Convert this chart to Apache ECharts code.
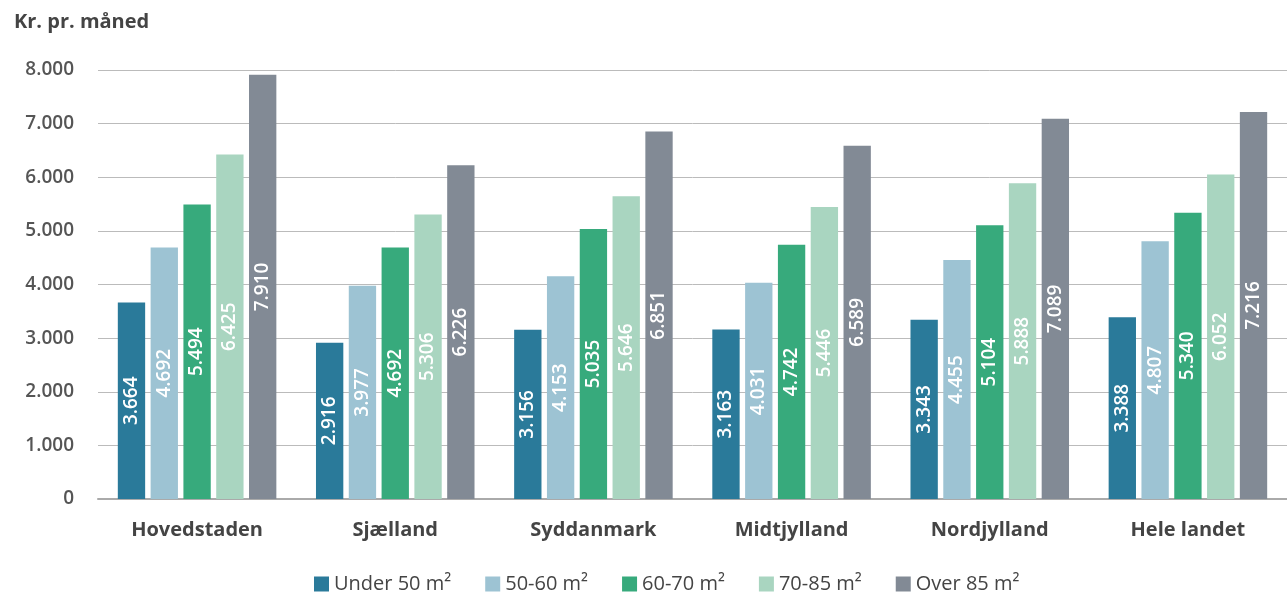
<!DOCTYPE html>
<html>
<head>
<meta charset="utf-8">
<script src="https://cdn.jsdelivr.net/npm/echarts@6/dist/echarts.min.js"></script>
<style>
  html, body { margin: 0; padding: 0; background: #fff; }
  #chart { width: 1287px; height: 593px; }
</style>
</head>
<body>
<div id="chart"></div>
<script>
const categories = ['Hovedstaden', 'Sjælland', 'Syddanmark', 'Midtjylland', 'Nordjylland', 'Hele landet']
const seriesNames = ['Under 50 m²', '50-60 m²', '60-70 m²', '70-85 m²', 'Over 85 m²']
const under50 = [3664, 2916, 3156, 3163, 3343, 3388]
const m50to60 = [4692, 3977, 4153, 4031, 4455, 4807]
const m60to70 = [5494, 4692, 5035, 4742, 5104, 5340]
const m70to85 = [6425, 5306, 5646, 5446, 5888, 6052]
const over85 = [7910, 6226, 6851, 6589, 7089, 7216]
const colors = ['#2a7a9a', '#9dc3d3', '#37aa7c', '#a9d5c0', '#828a95']

const fmt = v => String(v).replace(/\B(?=(\d{3})+(?!\d))/g, '.')
const font = '"Open Sans", "Noto Sans", sans-serif'

const chart = echarts.init(document.getElementById('chart'))

const series = [under50, m50to60, m60to70, m70to85, over85].map((values, i) => ({
  name: seriesNames[i],
  type: 'bar',
  data: values,
  barGap: '20%',
  barCategoryGap: '20%',
  itemStyle: { color: colors[i] },
  label: {
    show: true,
    position: 'inside',
    rotate: 90,
    color: '#fff',
    fontFamily: font,
    fontSize: 19,
    fontWeight: 600,
    formatter: p => fmt(p.value)
  }
}))

chart.setOption({
  color: colors,
  textStyle: { fontFamily: font },
  title: {
    text: 'Kr. pr. måned',
    left: 9,
    top: 7,
    textStyle: { fontFamily: font, fontSize: 20, fontWeight: 'bold', color: '#444' }
  },
  grid: { left: 98, right: 0, top: 70, bottom: 94, outerBoundsMode: 'none' },
  legend: {
    top: 569,
    left: 309,
    itemWidth: 15,
    itemHeight: 15,
    itemGap: 34,
    icon: 'rect',
    textStyle: { fontFamily: font, fontSize: 20, color: '#444' },
    data: seriesNames
  },
  xAxis: {
    type: 'category',
    data: categories,
    axisTick: { show: false },
    axisLine: { lineStyle: { color: '#aaa', width: 2 } },
    axisLabel: { fontFamily: font, fontSize: 20, fontWeight: 'bold', color: '#444', margin: 21 }
  },
  yAxis: {
    type: 'value',
    min: 0,
    max: 8000,
    interval: 1000,
    axisLabel: {
      fontFamily: font, fontSize: 19, fontWeight: 600, color: '#555', margin: 24,
      formatter: v => fmt(v)
    },
    splitLine: { lineStyle: { color: '#bbb', width: 1 } }
  },
  series
})
</script>
</body>
</html>
